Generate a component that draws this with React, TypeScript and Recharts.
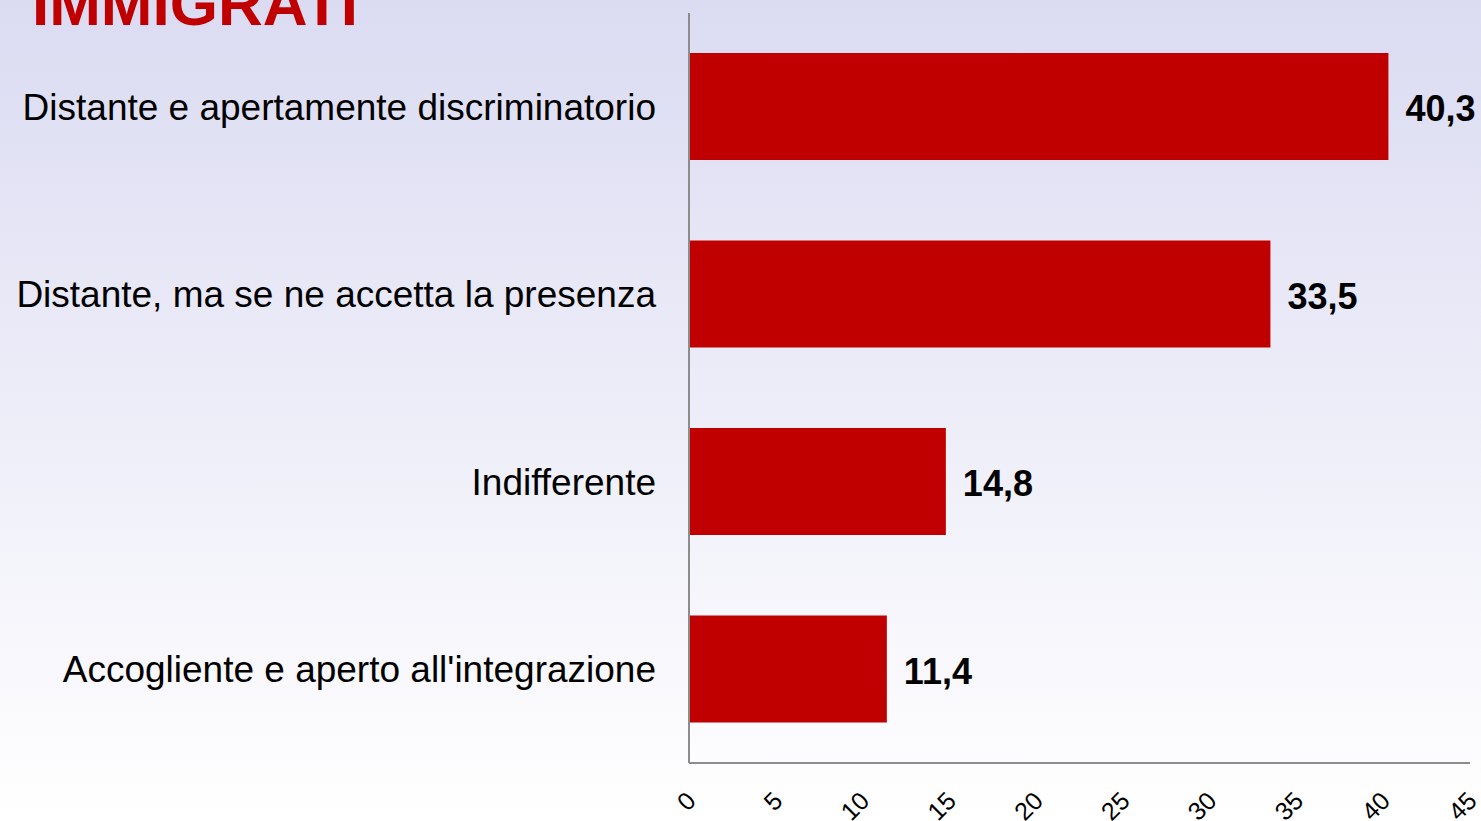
import React from "react";
import { BarChart, Bar, XAxis, YAxis, LabelList } from "recharts";

const categories = [
  "Distante e apertamente discriminatorio",
  "Distante, ma se ne accetta la presenza",
  "Indifferente",
  "Accogliente e aperto all'integrazione",
];
const values = [40.3, 33.5, 14.8, 11.4];
const xTicks = [0, 5, 10, 15, 20, 25, 30, 35, 40, 45];

const data = categories.map((name, i) => ({ name, value: values[i] }));

const FONT = "'Liberation Sans', Arial, sans-serif";

// tick labels of the value axis, turned 45 degrees
function RotatedTick(props: any) {
  const { x, y, payload } = props;
  const ax = x + 2;
  const ay = y + 25;
  return (
    <text
      x={ax}
      y={ay}
      transform={`rotate(-45, ${ax}, ${ay})`}
      textAnchor="end"
      dominantBaseline="central"
      fontSize={25}
      fontFamily={FONT}
      fill="#000"
    >
      {payload.value}
    </text>
  );
}

export default function App() {
  return (
    <div
      style={{
        position: "absolute",
        left: 0,
        top: 0,
        width: 1481,
        height: 821,
        overflow: "hidden",
        background: "linear-gradient(to bottom, #dbdbf2 0%, #ffffff 100%)",
        fontFamily: FONT,
      }}
    >
      <div
        style={{
          position: "absolute",
          left: 32,
          top: -27,
          fontSize: 62,
          lineHeight: "62px",
          fontWeight: "bold",
          color: "#c00000",
          whiteSpace: "nowrap",
        }}
      >
        IMMIGRATI
      </div>
      <BarChart
        width={1481}
        height={821}
        data={data}
        layout="vertical"
        margin={{ top: 13, right: 11, bottom: 0, left: 0 }}
        barSize={107}
      >
        <XAxis
          type="number"
          domain={[0, 45]}
          ticks={xTicks}
          interval={0}
          height={58}
          axisLine={{ stroke: "#8c8c8c", strokeWidth: 2 }}
          tickLine={false}
          tick={<RotatedTick />}
        />
        <YAxis
          type="category"
          dataKey="name"
          width={689}
          axisLine={{ stroke: "#8c8c8c", strokeWidth: 2 }}
          tickLine={false}
          tickMargin={27}
          tick={{ fontSize: 37, fill: "#000", fontFamily: FONT }}
        />
        <Bar dataKey="value" fill="#c00000" isAnimationActive={false}>
          <LabelList
            dataKey="value"
            position="right"
            offset={17}
            dy={2}
            formatter={(v: any) => String(v).replace(".", ",")}
            style={{ fontSize: 36, fontWeight: "bold", fill: "#000", fontFamily: FONT }}
          />
        </Bar>
      </BarChart>
    </div>
  );
}
